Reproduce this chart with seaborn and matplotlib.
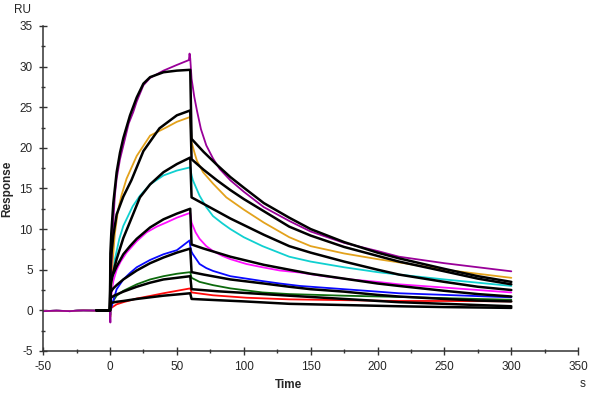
import matplotlib
matplotlib.use("Agg")
import matplotlib.pyplot as plt
from matplotlib.ticker import MultipleLocator
import pandas as pd
import seaborn as sns

# sensorgram readings (time in s, response in RU)
baseline_t = [-50, -40, -30, -20, -10, 0]
baseline_v = [-0.1, -0.05, -0.1, 0.0, -0.05, 0.0]

# measured curves, association phase
assoc_data = {
    "purple": ([0, 0.3, 0.8, 1.5, 2.5, 3.7, 5, 7.5, 11.2, 14, 17.4, 20, 25, 30, 40, 50, 59, 59.5],
               [0, -1.5, 4, 7.5, 11, 14.2, 16.2, 18.6, 21.1, 23, 24.4, 25.7, 27.7, 28.6, 29.5, 30.2, 30.8, 31.6]),
    "orange": ([0, 0.3, 1.2, 2, 3.7, 6, 8.7, 12.4, 20, 30, 42, 50, 60],
               [0, -0.8, 3.5, 6, 9.5, 12.3, 14.2, 16.2, 19, 21.5, 22.5, 23.2, 23.8]),
    "cyan": ([0, 0.3, 1.2, 3.7, 7, 10, 17, 22.4, 30, 40, 50, 60],
             [0, -0.5, 3.5, 6.3, 8.8, 10.4, 12.8, 14.1, 15.5, 16.6, 17.2, 17.6]),
    "magenta": ([0, 0.3, 1, 2.5, 5, 8, 12.4, 20, 27.4, 35, 42, 50, 60],
                [0, -0.5, 1.8, 3.6, 5.0, 6.0, 7.1, 8.5, 9.6, 10.3, 10.8, 11.4, 12.0]),
    "blue": ([0, 0.3, 1, 2.5, 5, 10, 15, 20, 30, 40, 50, 59.5],
             [0, -0.6, 0.3, 1.2, 2.6, 3.8, 4.6, 5.3, 6.2, 6.9, 7.4, 8.6]),
    "green": ([0, 0.3, 1, 3, 5, 10, 20, 30, 40, 50, 60],
              [0, -0.4, 0.6, 1.3, 1.8, 2.4, 3.2, 3.8, 4.2, 4.5, 4.7]),
    "red": ([0, 0.3, 1, 5, 10, 20, 30, 40, 50, 60],
            [0, 0.1, 0.3, 0.74, 1.0, 1.45, 1.77, 2.1, 2.4, 2.7]),
}

# measured curves, dissociation phase
dissoc_data = {
    "purple": ([60, 61, 63, 65, 68, 72, 77, 82, 90, 100, 115, 134, 150, 175, 200, 216, 250, 275, 300],
               [31.0, 28.5, 26.3, 24.6, 22.3, 20.3, 18.7, 17.4, 16.0, 14.6, 12.7, 11.0, 9.7, 8.3, 7.3, 6.6, 5.8, 5.3, 4.8]),
    "orange": ([61, 63, 65, 69.6, 77, 87, 100, 115, 134, 150, 175, 200, 216, 250, 275, 300],
               [20.7, 19.5, 18.4, 17.0, 15.6, 13.9, 12.4, 10.8, 9.0, 7.9, 7.0, 6.3, 5.9, 5.0, 4.5, 4.0]),
    "cyan": ([61, 62, 67, 72, 77, 84, 90, 100, 114, 134, 150, 175, 200, 216, 250, 275, 300],
             [16.6, 16.0, 14.1, 12.7, 11.6, 10.7, 10.0, 9.0, 7.9, 6.6, 6.0, 5.3, 4.7, 4.4, 3.8, 3.4, 3.0]),
    "magenta": ([61, 64, 67, 72, 77, 84, 90, 102, 114, 127, 142, 160, 180, 200, 216, 250, 275, 300],
                [10.8, 9.6, 8.8, 7.9, 7.3, 6.7, 6.3, 5.7, 5.3, 4.9, 4.65, 4.2, 3.8, 3.5, 3.2, 2.8, 2.5, 2.2]),
    "blue": ([60, 61, 62, 67, 72, 77, 90, 102, 114, 127, 142, 175, 200, 216, 250, 275, 300],
             [7.9, 7.2, 6.9, 5.7, 5.2, 4.85, 4.2, 3.9, 3.6, 3.3, 3.0, 2.6, 2.3, 2.1, 1.9, 1.75, 1.6]),
    "green": ([61, 67, 77, 90, 114, 134, 175, 216, 250, 300],
              [4.0, 3.5, 3.1, 2.7, 2.2, 2.0, 1.8, 1.65, 1.5, 1.3]),
    "red": ([61, 77, 102, 134, 175, 216, 250, 300],
            [2.2, 1.85, 1.55, 1.35, 1.25, 1.15, 1.15, 1.1]),
}

# fitted curves (black)
fit_assoc = {
    "purple": ([-10, 0, 0.3, 1, 2.5, 5, 7.5, 10, 15, 20, 25, 30, 40, 50, 60],
               [0, 0, 7, 9.5, 13.2, 17.0, 19.4, 21.2, 24, 26.2, 27.9, 28.7, 29.3, 29.5, 29.6]),
    "orange": ([-10, 0, 0.3, 1, 2.5, 5, 10, 16, 25, 37, 50, 60],
               [0, 0, 5, 6.8, 9.2, 11.8, 14.0, 16.0, 19.6, 22.4, 24.0, 24.6]),
    "cyan": ([-10, 0, 0.3, 2.5, 5, 10, 15, 22.4, 30, 40, 50, 60],
             [0, 0, 3.5, 4.7, 6.3, 8.9, 10.9, 13.9, 15.5, 17.0, 18.0, 18.8]),
    "magenta": ([-10, 0, 0.3, 2, 5, 10, 15, 20, 30, 40, 50, 60],
                [0, 0, 3, 4.3, 5.4, 6.9, 7.9, 8.8, 10.2, 11.2, 11.9, 12.5]),
    "blue": ([-10, 0, 0.3, 2.5, 5, 10, 20, 30, 40, 50, 60],
             [0, 0, 2.2, 2.7, 3.1, 3.8, 4.9, 5.8, 6.5, 7.1, 7.6]),
    "green": ([-10, 0, 0.3, 3, 10, 20, 30, 40, 50, 60],
              [0, 0, 1.5, 1.8, 2.3, 2.9, 3.4, 3.8, 4.0, 4.2]),
    "red": ([-10, 0, 0.3, 5, 10, 20, 30, 40, 50, 60],
            [0, 0, 0.9, 1.05, 1.15, 1.4, 1.6, 1.8, 1.95, 2.1]),
}

fit_dissoc = {
    "purple": ([61, 70, 80, 90, 100, 115, 134, 150, 175, 200, 216, 250, 275, 300],
               [21.1, 19.5, 17.9, 16.4, 15.1, 13.2, 11.4, 10.0, 8.4, 7.1, 6.4, 5.1, 4.2, 3.5]),
    "orange": ([61, 70, 80, 90, 100, 115, 134, 150, 175, 200, 216, 250, 275, 300],
               [18.6, 17.3, 16.0, 14.8, 13.7, 12.2, 10.3, 9.2, 7.8, 6.7, 6.0, 4.8, 3.9, 3.2]),
    "cyan": ([61, 70, 80, 90, 100, 115, 134, 150, 175, 200, 216, 250, 275, 300],
             [13.9, 13.1, 12.2, 11.3, 10.5, 9.3, 7.9, 7.1, 6.0, 5.0, 4.4, 3.5, 2.9, 2.5]),
    "magenta": ([61, 70, 80, 90, 100, 115, 134, 150, 175, 200, 216, 250, 275, 300],
                [8.1, 7.6, 7.1, 6.6, 6.2, 5.6, 5.0, 4.5, 3.9, 3.3, 3.0, 2.4, 2.0, 1.7]),
    "blue": ([61, 70, 80, 90, 100, 115, 134, 150, 175, 200, 216, 250, 275, 300],
             [4.7, 4.4, 4.1, 3.8, 3.6, 3.3, 2.9, 2.6, 2.3, 1.9, 1.7, 1.4, 1.2, 1.1]),
    "green": ([61, 80, 100, 134, 175, 216, 250, 300],
              [2.6, 2.35, 2.15, 1.8, 1.4, 1.0, 0.8, 0.5]),
    "red": ([61, 80, 100, 134, 175, 216, 250, 300],
            [1.4, 1.25, 1.1, 0.8, 0.65, 0.5, 0.4, 0.3]),
}

colors = {"purple": "#990099", "orange": "#e3a21c", "cyan": "#10d0d0",
          "magenta": "#ff10ff", "blue": "#0a0aff", "green": "#0c6a0c", "red": "#ff0a0a"}
order = ["red", "green", "blue", "magenta", "cyan", "orange", "purple"]

rows = []
for name in order:
    t = baseline_t + assoc_data[name][0] + dissoc_data[name][0]
    v = baseline_v + assoc_data[name][1] + dissoc_data[name][1]
    for ti, vi in zip(t, v):
        rows.append({"time": ti, "response": vi, "curve": name})
data_df = pd.DataFrame(rows)

rows = []
for name in order:
    t = fit_assoc[name][0] + fit_dissoc[name][0]
    v = fit_assoc[name][1] + fit_dissoc[name][1]
    for ti, vi in zip(t, v):
        rows.append({"time": ti, "response": vi, "curve": "fit_" + name})
fit_df = pd.DataFrame(rows)

sns.set_style("ticks")
plt.rcParams["font.family"] = ["Liberation Sans", "DejaVu Sans"]
plt.rcParams["axes.unicode_minus"] = False

fig = plt.figure(figsize=(5.9, 3.93), dpi=100)
ax = fig.add_axes([0.073, 0.107, 0.907, 0.827])

sns.lineplot(data=data_df, x="time", y="response", hue="curve", palette=colors,
             estimator=None, sort=False, linewidth=1.3, legend=False, ax=ax)
sns.lineplot(data=fit_df, x="time", y="response", units="curve", color="black",
             estimator=None, sort=False, linewidth=1.8, legend=False, ax=ax)

ax.set_xlim(-50, 350)
ax.set_ylim(-5, 35)
ax.xaxis.set_major_locator(MultipleLocator(50))
ax.xaxis.set_minor_locator(MultipleLocator(25))
ax.yaxis.set_major_locator(MultipleLocator(5))
ax.yaxis.set_minor_locator(MultipleLocator(2.5))
ax.tick_params(which="major", direction="inout", length=6, width=1, labelsize=8.5, pad=4.5, color="#333333")
ax.tick_params(which="minor", direction="inout", length=3.5, width=1, color="#333333")
sns.despine(ax=ax)
for side in ["left", "bottom"]:
    ax.spines[side].set_color("#333333")
    ax.spines[side].set_linewidth(1.1)

ax.set_xlabel("Time", fontsize=8.5, fontweight="bold")
ax.set_ylabel("Response", fontsize=8.5, fontweight="bold")
ax.xaxis.set_label_coords(0.458, -0.085)
ax.yaxis.set_label_coords(-0.056, 0.5)
fig.text(0.024, 0.975, "RU", fontsize=8.5, ha="left", va="center")
fig.text(0.992, 0.022, "s", fontsize=8.5, ha="right", va="center")

fig.savefig("out.png", dpi=100)
